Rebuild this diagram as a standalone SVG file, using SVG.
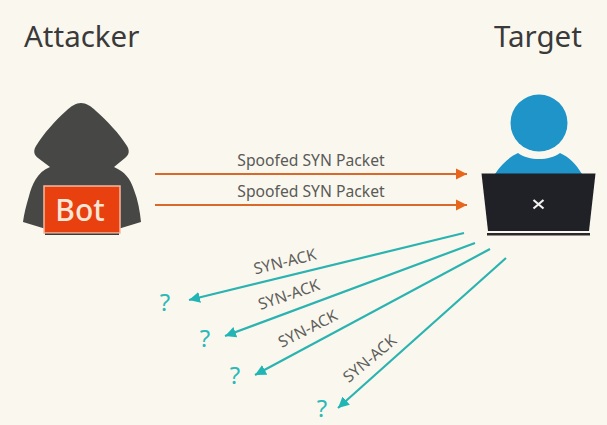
<svg xmlns="http://www.w3.org/2000/svg" width="607" height="425" viewBox="0 0 607 425">
<defs>
<style>
text{font-family:"Noto Sans","Open Sans",sans-serif}
.title{font-size:29.500px;fill:#3a3a3a}
.pk{font-size:15.700px;fill:#5a5a58}
.sa{font-size:15.700px;fill:#5f5f5c}
.q{font-size:24px;fill:#2db8b8}
.o{stroke:#d9692a;stroke-width:2;fill:none;marker-end:url(#ao)}
.t{stroke:#2ab3b0;stroke-width:2.200;fill:none;marker-end:url(#at)}
</style>
<marker id="ao" markerUnits="userSpaceOnUse" markerWidth="13" markerHeight="13" refX="11" refY="6.500" orient="auto"><path d="M0 1L11 6.500L0 12Z" fill="#e8651c"/></marker>
<marker id="at" markerUnits="userSpaceOnUse" markerWidth="13" markerHeight="13" refX="11" refY="6.500" orient="auto"><path d="M0 1L11 6.500L0 12Z" fill="#21b5b5"/></marker>
</defs>
<rect width="607" height="425" fill="#faf8ee"/>
<g id="attacker">
<text class="title" x="24" y="47">Attacker</text>
<path d="M81 103C76 103 71 106 66 111C55 121 44 133 36 146C33 151 34 155 38 158L50 167C37 172 32 185 29 196C26 206 24 214 23 222L46 229L118 229L141 222C140 212 138 200 134 190C130 178 125 172 114 167L125 158C129 155 130 151 127 146C119 133 107 121 96 111C91 106 86 103 81 103Z" fill="#474746"/>
</g>
<g id="bot">
<rect x="44" y="186" width="76" height="47" fill="#e8400f" stroke="#f3b9a0" stroke-width="1.500"/>
<rect x="45" y="233.500" width="74" height="1.500" fill="#3a3a3a"/>
<text x="80" y="221" text-anchor="middle" font-size="30" font-weight="500" fill="#fbe6d6">Bot</text>
</g>
<g id="target">
<text class="title" x="494" y="47">Target</text>
<circle cx="539" cy="123" r="28.500" fill="#1f94c8"/>
<path d="M495 174C502 163 511 156 518 153C529 161 549 161 560 153C569 157 576 164 582 174Z" fill="#1f94c8"/>
<path d="M481.500 173.500H595.500L589 231H488Z" fill="#1f2127"/>
<rect x="487" y="233" width="103" height="2.500" fill="#2a2a2a"/>
<path d="M533.500 200L543.500 208.500M543.500 200L533.500 208.500" stroke="#f2f2f0" stroke-width="2.200" fill="none"/>
</g>
<g id="connectors">
<path class="o" d="M155 174H467"/>
<path class="o" d="M155 205H467"/>
<path class="t" d="M464 233L189 300"/>
<path class="t" d="M475 243L225 336"/>
<path class="t" d="M490 249L255 375"/>
<path class="t" d="M506 258L338 408"/>
</g>
<g id="labels">
<text class="pk" x="311" y="166" text-anchor="middle">Spoofed SYN Packet</text>
<text class="pk" x="311" y="197" text-anchor="middle">Spoofed SYN Packet</text>
<text class="sa" transform="translate(285 262) rotate(-14)" text-anchor="middle" dy="5">SYN-ACK</text>
<text class="sa" transform="translate(289 295) rotate(-19)" text-anchor="middle" dy="5">SYN-ACK</text>
<text class="sa" transform="translate(308 329) rotate(-27)" text-anchor="middle" dy="5">SYN-ACK</text>
<text class="sa" transform="translate(370 359) rotate(-40)" text-anchor="middle" dy="5">SYN-ACK</text>
<text class="q" x="165" y="311" text-anchor="middle">?</text>
<text class="q" x="205" y="347" text-anchor="middle">?</text>
<text class="q" x="235" y="384" text-anchor="middle">?</text>
<text class="q" x="322" y="417" text-anchor="middle">?</text>
</g>
</svg>
